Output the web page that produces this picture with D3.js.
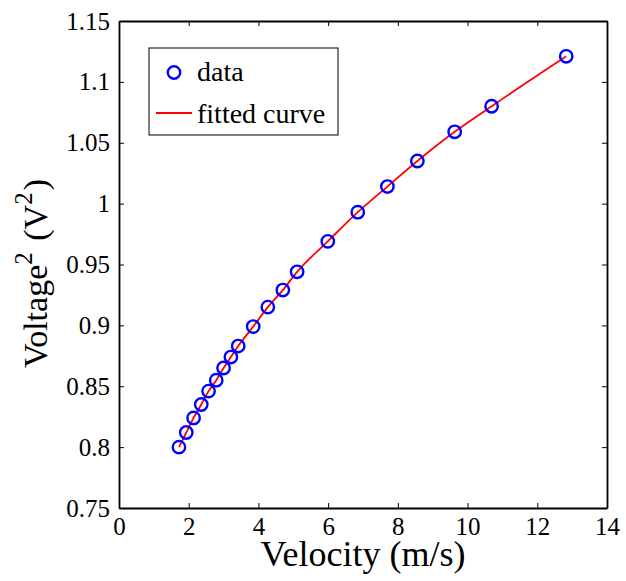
<!DOCTYPE html>
<html>
<head>
<meta charset="utf-8">
<script src="https://cdn.jsdelivr.net/npm/d3@7"></script>
<style>
  body { margin: 0; background: #fff; }
</style>
</head>
<body>
<div id="chart"></div>
<script>
// chart size
var svgWidth = 626;
var svgHeight = 581;
var serif = "'Liberation Serif', 'Times New Roman', Times, serif";

// plot box position
var margin = { top: 21, right: 19, bottom: 73, left: 119 };
var chartWidth = svgWidth - margin.left - margin.right;
var chartHeight = svgHeight - margin.top - margin.bottom;

// data
var velocity = [1.72, 1.93, 2.14, 2.36, 2.57, 2.79, 3.0, 3.21, 3.42, 3.85, 4.27, 4.7, 5.11,
                5.99, 6.85, 7.7, 8.56, 9.63, 10.69, 12.83];
var voltageSq = [0.800, 0.812, 0.824, 0.835, 0.846, 0.855, 0.865, 0.874, 0.883, 0.899, 0.915, 0.929, 0.944,
                 0.969, 0.993, 1.014, 1.035, 1.059, 1.080, 1.121];

var xTicks = [0, 2, 4, 6, 8, 10, 12, 14];
var yTicks = [0.75, 0.8, 0.85, 0.9, 0.95, 1, 1.05, 1.1, 1.15];
var legendLabels = ["data", "fitted curve"];

var points = velocity.map(function(v, i) { return { x: v, y: voltageSq[i] }; });

var svg = d3.select("#chart").append("svg")
  .attr("width", svgWidth)
  .attr("height", svgHeight)
  .attr("font-family", serif);

var chartGroup = svg.append("g")
  .attr("transform", `translate(${margin.left}, ${margin.top})`);

var xScale = d3.scaleLinear().domain([0, 14]).range([0, chartWidth]);
var yScale = d3.scaleLinear().domain([0.75, 1.15]).range([chartHeight, 0]);

// axes with inward ticks (MATLAB style)
var fmtY = function(d) { return String(+d.toFixed(2)); };

var xAxis = chartGroup.append("g")
  .attr("transform", `translate(0, ${chartHeight})`)
  .call(d3.axisBottom(xScale).tickValues(xTicks).tickSizeInner(-5).tickSizeOuter(0).tickPadding(9));

var xAxisTop = chartGroup.append("g")
  .call(d3.axisTop(xScale).tickValues(xTicks).tickSizeInner(-5).tickSizeOuter(0).tickFormat(""));

var yAxis = chartGroup.append("g")
  .call(d3.axisLeft(yScale).tickValues(yTicks).tickSizeInner(-5).tickSizeOuter(0).tickPadding(9).tickFormat(fmtY));

var yAxisRight = chartGroup.append("g")
  .attr("transform", `translate(${chartWidth}, 0)`)
  .call(d3.axisRight(yScale).tickValues(yTicks).tickSizeInner(-5).tickSizeOuter(0).tickFormat(""));

chartGroup.selectAll(".tick line").attr("stroke", "#000").attr("stroke-width", 1);
chartGroup.selectAll(".domain").attr("stroke", "#000").attr("stroke-width", 1.8);
chartGroup.selectAll("g").attr("font-family", serif).attr("font-size", 25);
chartGroup.selectAll(".tick text")
  .attr("font-family", serif)
  .attr("font-size", 25)
  .attr("fill", "#000");

// fitted curve
var line = d3.line()
  .x(d => xScale(d.x))
  .y(d => yScale(d.y))
  .curve(d3.curveMonotoneX);

chartGroup.append("path")
  .datum(points)
  .attr("d", line)
  .attr("fill", "none")
  .attr("stroke", "#ff0000")
  .attr("stroke-width", 1.8);

// data markers
chartGroup.append("g").selectAll("circle")
  .data(points)
  .enter()
  .append("circle")
  .attr("cx", d => xScale(d.x))
  .attr("cy", d => yScale(d.y))
  .attr("r", 6.2)
  .attr("fill", "none")
  .attr("stroke", "#0000ff")
  .attr("stroke-width", 2.4);

// legend
var legend = chartGroup.append("g")
  .attr("transform", "translate(30, 27)");

legend.append("rect")
  .attr("x", 0).attr("y", 0)
  .attr("width", 189).attr("height", 87)
  .attr("fill", "#fff")
  .attr("stroke", "#000")
  .attr("stroke-width", 1);

legend.append("circle")
  .attr("cx", 25).attr("cy", 24.5)
  .attr("r", 6.2)
  .attr("fill", "none")
  .attr("stroke", "#0000ff")
  .attr("stroke-width", 2.4);

legend.append("line")
  .attr("x1", 7).attr("x2", 43)
  .attr("y1", 65).attr("y2", 65)
  .attr("stroke", "#ff0000")
  .attr("stroke-width", 1.8);

legend.selectAll("text.lbl")
  .data(legendLabels)
  .enter()
  .append("text")
  .attr("class", "lbl")
  .attr("x", 48)
  .attr("y", (d, i) => 33 + i * 42)
  .attr("font-family", serif)
  .attr("font-size", 28)
  .text(d => d);

// x label
svg.append("text")
  .attr("x", margin.left + chartWidth / 2)
  .attr("y", 566)
  .attr("text-anchor", "middle")
  .attr("font-family", serif)
  .attr("font-size", 36)
  .text("Velocity (m/s)");

// y label with superscripts
var yLbl = svg.append("text")
  .attr("transform", "translate(47, 368) rotate(-90)")
  .attr("text-anchor", "start")
  .attr("font-family", serif)
  .attr("font-size", 34);
yLbl.append("tspan").text("Voltage");
yLbl.append("tspan").attr("dy", -15).attr("font-size", 25).text("2");
yLbl.append("tspan").attr("dy", 15).attr("dx", 3).text(" (V");
yLbl.append("tspan").attr("dy", -15).attr("font-size", 25).text("2");
yLbl.append("tspan").attr("dy", 15).attr("dx", 2).text(")");
</script>
</body>
</html>
